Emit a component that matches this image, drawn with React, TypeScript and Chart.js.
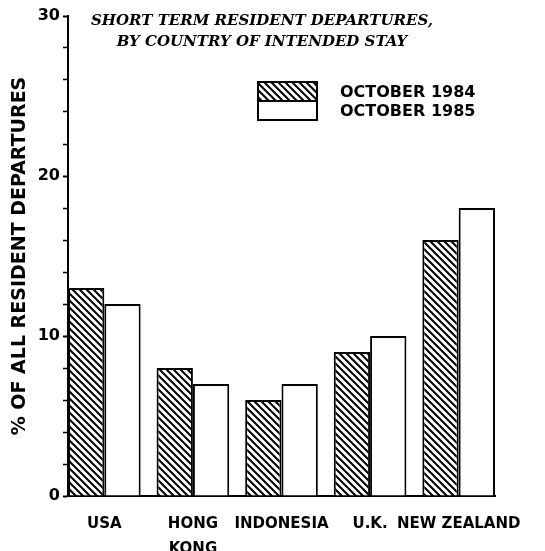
import React, { useEffect, useRef } from 'react';
import { Chart, registerables } from 'chart.js';

Chart.register(...registerables);

const categories: string[][] = [['USA'], ['HONG', 'KONG'], ['INDONESIA'], ['U.K.'], ['NEW ZEALAND']];
const oct1984: number[] = [13, 8, 6, 9, 16];
const oct1985: number[] = [12, 7, 7, 10, 18];
const seriesLabels: string[] = ['OCTOBER 1984', 'OCTOBER 1985'];
const yMajorStep = 10;
const yMinorStep = 2;
const yMax = 30;
const titleLines: string[] = ['SHORT TERM RESIDENT DEPARTURES,', 'BY COUNTRY OF INTENDED STAY'];
const yTitle = '% OF ALL RESIDENT DEPARTURES';

const W = 545;
const H = 551;
const SANS = '"DejaVu Sans", sans-serif';
const SERIF = '"DejaVu Serif", serif';

function makeHatch(): CanvasPattern | string {
  const s = 7;
  const c = document.createElement('canvas');
  c.width = s;
  c.height = s;
  const g = c.getContext('2d');
  if (!g) return '#fff';
  g.fillStyle = '#fff';
  g.fillRect(0, 0, s, s);
  g.strokeStyle = '#000';
  g.lineWidth = 2;
  g.beginPath();
  g.moveTo(-1, -1);
  g.lineTo(s + 1, s + 1);
  g.moveTo(-2, s - 2);
  g.lineTo(2, s + 2);
  g.moveTo(s - 2, -2);
  g.lineTo(s + 2, 2);
  g.stroke();
  return g.createPattern(c, 'repeat') || '#fff';
}

const titlePlugin = {
  id: 'customTitle',
  afterDraw(chart: any) {
    const ctx = chart.ctx as CanvasRenderingContext2D;
    ctx.save();
    ctx.fillStyle = '#000';
    ctx.font = `italic bold 15px ${SERIF}`;
    ctx.textAlign = 'center';
    ctx.textBaseline = 'middle';
    ctx.fillText(titleLines[0], 262, 21);
    ctx.fillText(titleLines[1], 262, 42);
    ctx.restore();
  },
};

const legendPlugin = {
  id: 'customLegend',
  afterDraw(chart: any) {
    const ctx = chart.ctx as CanvasRenderingContext2D;
    const ds = chart.data.datasets;
    const x0 = 258;
    const bw = 59;
    const top = 82;
    const bh = 19;
    ctx.save();
    ctx.lineWidth = 2;
    ctx.strokeStyle = '#000';
    for (let i = 0; i < ds.length; i++) {
      const y = top + i * bh;
      ctx.fillStyle = ds[i].backgroundColor;
      ctx.fillRect(x0, y, bw, bh);
      ctx.strokeRect(x0, y, bw, bh);
      ctx.fillStyle = '#000';
      ctx.font = `bold 16px ${SANS}`;
      ctx.textAlign = 'left';
      ctx.textBaseline = 'middle';
      ctx.fillText(ds[i].label, 340, y + bh / 2 + 1);
    }
    ctx.restore();
  },
};

export default function App() {
  const ref = useRef<HTMLCanvasElement | null>(null);

  useEffect(() => {
    document.body.style.margin = '0';
    const canvas = ref.current;
    if (!canvas) return;
    const hatch = makeHatch();
    const chart = new Chart(canvas, {
      type: 'bar',
      data: {
        datasets: [
          {
            label: seriesLabels[0],
            data: oct1984.map((v, i) => ({ x: i, y: v })),
            backgroundColor: hatch as any,
            borderColor: '#000',
            borderWidth: 2,
            borderSkipped: 'start',
            categoryPercentage: 0.82,
            barPercentage: 1.0,
          },
          {
            label: seriesLabels[1],
            data: oct1985.map((v, i) => ({ x: i, y: v })),
            backgroundColor: '#fff',
            borderColor: '#000',
            borderWidth: 2,
            borderSkipped: 'start',
            categoryPercentage: 0.82,
            barPercentage: 1.0,
          },
        ],
      },
      options: {
        responsive: false,
        animation: false,
        events: [],
        layout: { padding: { top: 16, right: 50, bottom: 0, left: 0 } },
        plugins: {
          legend: { display: false },
          title: { display: false },
          tooltip: { enabled: false },
        },
        scales: {
          x: {
            type: 'linear',
            offset: false,
            min: -0.41,
            max: categories.length - 1 + 0.41,
            grid: { display: false },
            border: { display: true, color: '#000', width: 2 },
            afterBuildTicks: (scale: any) => {
              scale.ticks = categories.map((_, i) => ({ value: i }));
            },
            ticks: {
              autoSkip: false,
              maxRotation: 0,
              minRotation: 0,
              padding: 8,
              color: '#000',
              font: { family: SANS, size: 15, weight: 'bold', lineHeight: 1.65 },
              callback: (v: any) => {
                const n = Number(v);
                return Number.isInteger(n) && n >= 0 && n < categories.length ? categories[n] : '';
              },
            },
            afterFit: (scale: any) => {
              scale.height = 55;
            },
          },
          y: {
            min: 0,
            max: yMax,
            grid: {
              drawOnChartArea: false,
              drawTicks: true,
              tickLength: 5,
              color: '#000',
              tickWidth: (c: any) => (c.tick && c.tick.value % yMajorStep === 0 ? 2 : 1.5),
            },
            border: { display: true, color: '#000', width: 2 },
            ticks: {
              stepSize: yMinorStep,
              autoSkip: false,
              padding: 3,
              color: '#000',
              font: { family: SANS, size: 16, weight: 'bold' },
              callback: (v: any) => (Number(v) % yMajorStep === 0 ? String(v) : ''),
            },
            title: {
              display: true,
              text: yTitle,
              color: '#000',
              padding: { top: 9, bottom: 0 },
              font: { family: SANS, size: 19, weight: 'bold' },
            },
            afterFit: (scale: any) => {
              scale.width = 68;
            },
          },
        },
      },
      plugins: [titlePlugin, legendPlugin],
    });
    return () => chart.destroy();
  }, []);

  return <canvas ref={ref} width={W} height={H} style={{ display: 'block', width: W, height: H }} />;
}
